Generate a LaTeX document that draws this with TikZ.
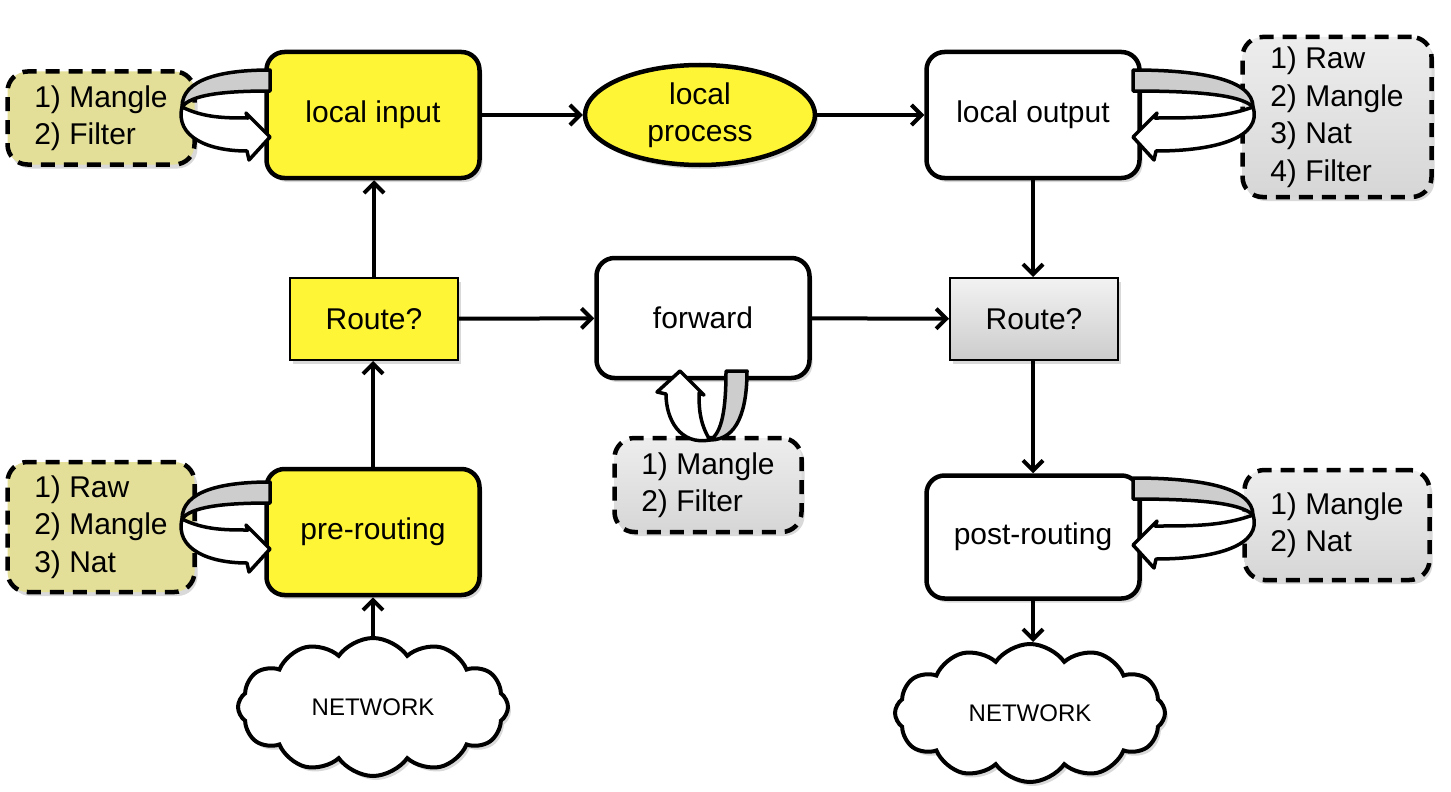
\documentclass[tikz,border=0pt]{standalone}
\usepackage{fontspec}
\setmainfont{Liberation Sans}
\usetikzlibrary{arrows.meta,shapes.geometric,shapes.symbols,shadows}
\definecolor{hotyellow}{RGB}{255,245,55}
\definecolor{olivebox}{RGB}{227,222,152}
\definecolor{loopgrey}{RGB}{205,205,205}
\newcommand{\hookloop}[3]{%
\begin{scope}[shift={#1},#2]
\filldraw[fill=loopgrey,draw=black,line width=3.5pt,line join=round] (0,-45) .. controls ({-0.55*#3},-45) and ({-1.0*#3},-36) .. ({-#3},-8) .. controls ({-0.9*#3},-20) and ({-0.55*#3},-24) .. (0,-24) -- cycle;
\filldraw[fill=white,draw=black,line width=3.5pt,line join=round] ({-#3},-8) .. controls ({-0.75*#3},3) and ({-0.5*#3},3) .. (-22,3) -- (-24,-2) -- (0,22) -- (-21,45) -- (-23,36) .. controls ({-0.7*#3},36) and ({-1.08*#3},22) .. ({-#3},-8) -- cycle;
\end{scope}}
\begin{document}
\begin{tikzpicture}[x=1pt,y=-1pt,
  every node/.style={font=\fontsize{30}{37.5}\selectfont},
  shade/.style={drop shadow={opacity=0.3,shadow xshift=3pt,shadow yshift=-4pt}},
  box/.style={draw,line width=4.5pt,rounded corners=18pt,minimum width=213pt,minimum height=126pt,inner sep=0pt,shade},
  routebox/.style={draw,line width=2pt,minimum width=168pt,minimum height=82pt,inner sep=0pt,shade},
  hookbox/.style={draw,line width=4.5pt,dash pattern=on 14pt off 9pt,rounded corners=20pt,align=left,inner sep=0pt,shade},
  greyfill/.style={top color=white!93!black,bottom color=white!84!black},
  netcloud/.style={cloud,draw,line width=4pt,fill=white,cloud puffs=12,cloud puff arc=110,aspect=2.1,minimum width=270pt,minimum height=138pt,inner sep=0pt,font=\fontsize{24}{28}\selectfont,shade},
  flow/.style={line width=4pt,-{Straight Barb[length=10pt,width=20pt,line width=4pt]}}
]
\useasboundingbox (0,0) rectangle (1451,792);

% main nodes
\node[box,fill=hotyellow] (li) at (373,115) {local input};
\node[ellipse,draw,line width=4.5pt,fill=hotyellow,minimum width=230pt,minimum height=100pt,inner sep=0pt,align=center,shade] (lp) at (700,115) {local\\process};
\node[box,fill=white] (lo) at (1033,115) {local output};
\node[routebox,fill=hotyellow] (rl) at (374,319) {Route?};
\node[box,fill=white,minimum height=120pt] (fw) at (703,318) {forward};
\node[routebox,top color=white!95!black,bottom color=white!80!black] (rr) at (1034,319) {Route?};
\node[box,fill=hotyellow] (pre) at (373,532) {pre-routing};
\node[box,fill=white,minimum height=123pt] (post) at (1033,537) {post-routing};
\node[netcloud] (cl) at (373,707) {NETWORK};
\node[netcloud] (cr) at (1030,713) {NETWORK};

% hook boxes
\node[hookbox,fill=olivebox,minimum width=187pt,minimum height=93pt] (hli) at (101,118) {1) Mangle\\2) Filter};
\node[hookbox,greyfill,minimum width=189pt,minimum height=160pt] (hlo) at (1337,117) {1) Raw\\2) Mangle\\3) Nat\\4) Filter};
\node[hookbox,greyfill,minimum width=187pt,minimum height=94pt] (hfw) at (708,485) {1) Mangle\\2) Filter};
\node[hookbox,fill=olivebox,minimum width=187pt,minimum height=130pt] (hpre) at (101,527) {1) Raw\\2) Mangle\\3) Nat};
\node[hookbox,greyfill,minimum width=185pt,minimum height=110pt] (hpost) at (1337,525) {1) Mangle\\2) Nat};

% hook loops
\hookloop{(270,115)}{}{88}
\hookloop{(270,527)}{}{88}
\hookloop{(1133,115)}{xscale=-1}{120}
\hookloop{(1133,523)}{xscale=-1}{120}
\hookloop{(702,371)}{cm={0,1,1,0,(0,0)}}{69}

% flow arrows
\draw[flow] (li) -- (lp);
\draw[flow] (lp) -- (lo);
\draw[flow] (lo.south) -- (lo.south |- rr.north);
\draw[flow] (rl.north) -- (rl.north |- li.south);
\draw[flow] (rl) -- (fw);
\draw[flow] (fw) -- (rr);
\draw[flow] (pre.north) -- (pre.north |- rl.south);
\draw[flow] (cl.north -| pre.south) -- (pre.south);
\draw[flow] (rr.south -| post.north) -- (post.north);
\draw[flow] (post.south) -- (post.south |- cr.north);
\end{tikzpicture}
\end{document}
